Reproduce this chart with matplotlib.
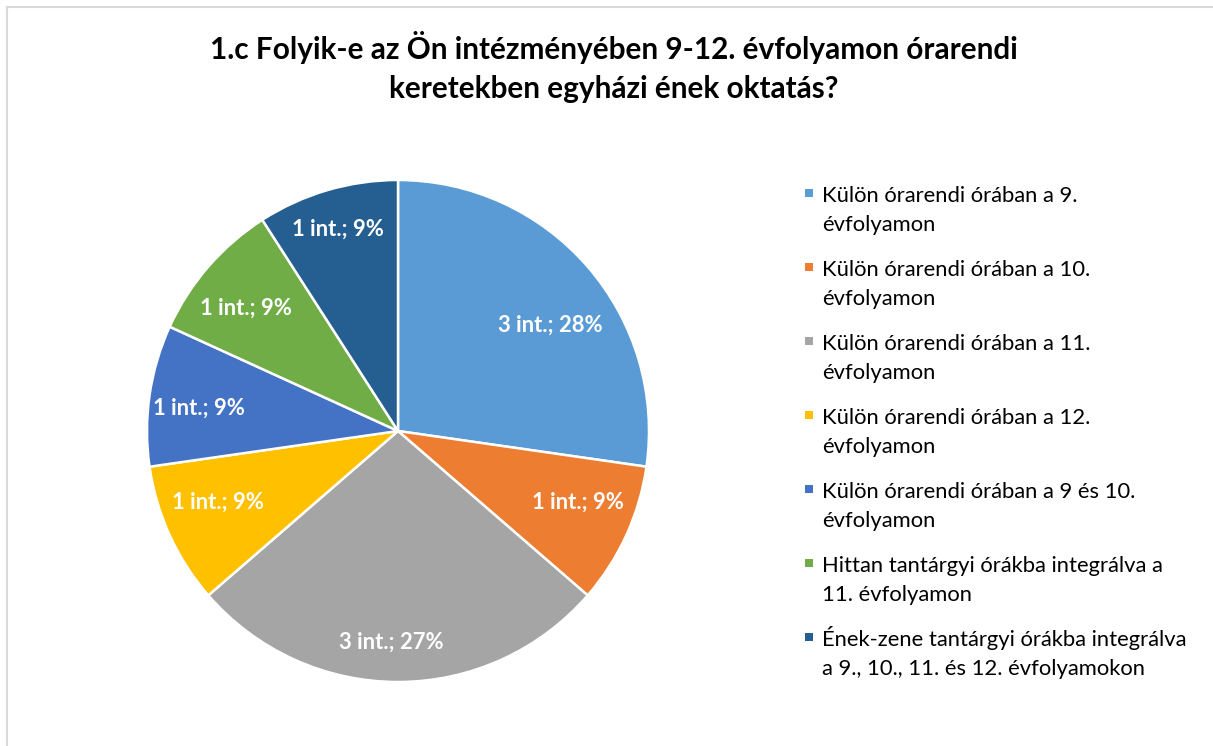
import matplotlib
matplotlib.use("Agg")
import numpy as np
import matplotlib.pyplot as plt
from matplotlib.patches import Rectangle
from matplotlib.lines import Line2D

# ---- data ----
title = "1.c Folyik-e az Ön intézményében 9-12. évfolyamon órarendi\nkeretekben egyházi ének oktatás?"
categories = [
    "Külön órarendi órában a 9.\névfolyamon",
    "Külön órarendi órában a 10.\névfolyamon",
    "Külön órarendi órában a 11.\névfolyamon",
    "Külön órarendi órában a 12.\névfolyamon",
    "Külön órarendi órában a 9 és 10.\névfolyamon",
    "Hittan tantárgyi órákba integrálva a\n11. évfolyamon",
    "Ének-zene tantárgyi órákba integrálva\na 9., 10., 11. és 12. évfolyamokon",
]
counts = [3, 1, 3, 1, 1, 1, 1]
percent_labels = [28, 9, 27, 9, 9, 9, 9]
colors = ["#5B9BD5", "#ED7D31", "#A5A5A5", "#FFC000", "#4472C4", "#70AD47", "#255E91"]

# label placement tweaks (radial distance, angular offset in degrees)
label_dist = [0.74, 0.77, 0.84, 0.77, 0.80, 0.78, 0.84]
label_dang = [-6.0, 3.0, -1.9, -3.0, 1.6, 1.9, 0.1]

W, H = 1213, 746
fig = plt.figure(figsize=(W / 100, H / 100), dpi=100)
fig.patch.set_facecolor("white")

def fx(px):
    return px / W

def fy(py):
    return 1 - py / H

# chart border (light gray, top and left visible)
fig.add_artist(Line2D([fx(6.5), fx(W)], [fy(6.5), fy(6.5)], color="#d9d9d9", lw=1.5))
fig.add_artist(Line2D([fx(6.5), fx(6.5)], [fy(6.5), fy(H)], color="#d9d9d9", lw=1.5))

# title (va='baseline' anchors the last line's baseline)
fig.text(fx(614), fy(98), title, ha="center", va="baseline", fontsize=21.4,
         fontweight="bold", family="Lato", color="#000000", linespacing=1.5)

# pie
cx, cy, r = 398, 431, 251
ax = fig.add_axes([fx(cx - r), fy(cy + r), 2 * r / W, 2 * r / H])
wedges, _ = ax.pie(
    counts, colors=colors, startangle=90, counterclock=False,
    wedgeprops=dict(edgecolor="white", linewidth=1.8),
)
for w, c, p, d, da in zip(wedges, counts, percent_labels, label_dist, label_dang):
    th = np.deg2rad((w.theta1 + w.theta2) / 2 + da)
    ax.text(d * np.cos(th), d * np.sin(th), f"{c} int.; {p}%", ha="center", va="center",
            color="white", fontsize=15.8, fontweight="bold", family="Lato")
ax.set_xlim(-1, 1)
ax.set_ylim(-1, 1)
ax.set_aspect("equal")
ax.axis("off")

# legend (manual)
for i, (lab, col) in enumerate(zip(categories, colors)):
    yb = 200.7 + 74 * i
    fig.add_artist(Rectangle((fx(805), fy(yb - 3.5)), 8 / W, 8 / H,
                             facecolor=col, edgecolor="none", transform=fig.transFigure))
    fig.text(fx(822), fy(yb + 30), lab, ha="left", va="baseline", fontsize=15.8,
             family="Lato", color="#000000", linespacing=1.53,
             transform=fig.transFigure)

fig.savefig("out.png", dpi=100, facecolor="white")
